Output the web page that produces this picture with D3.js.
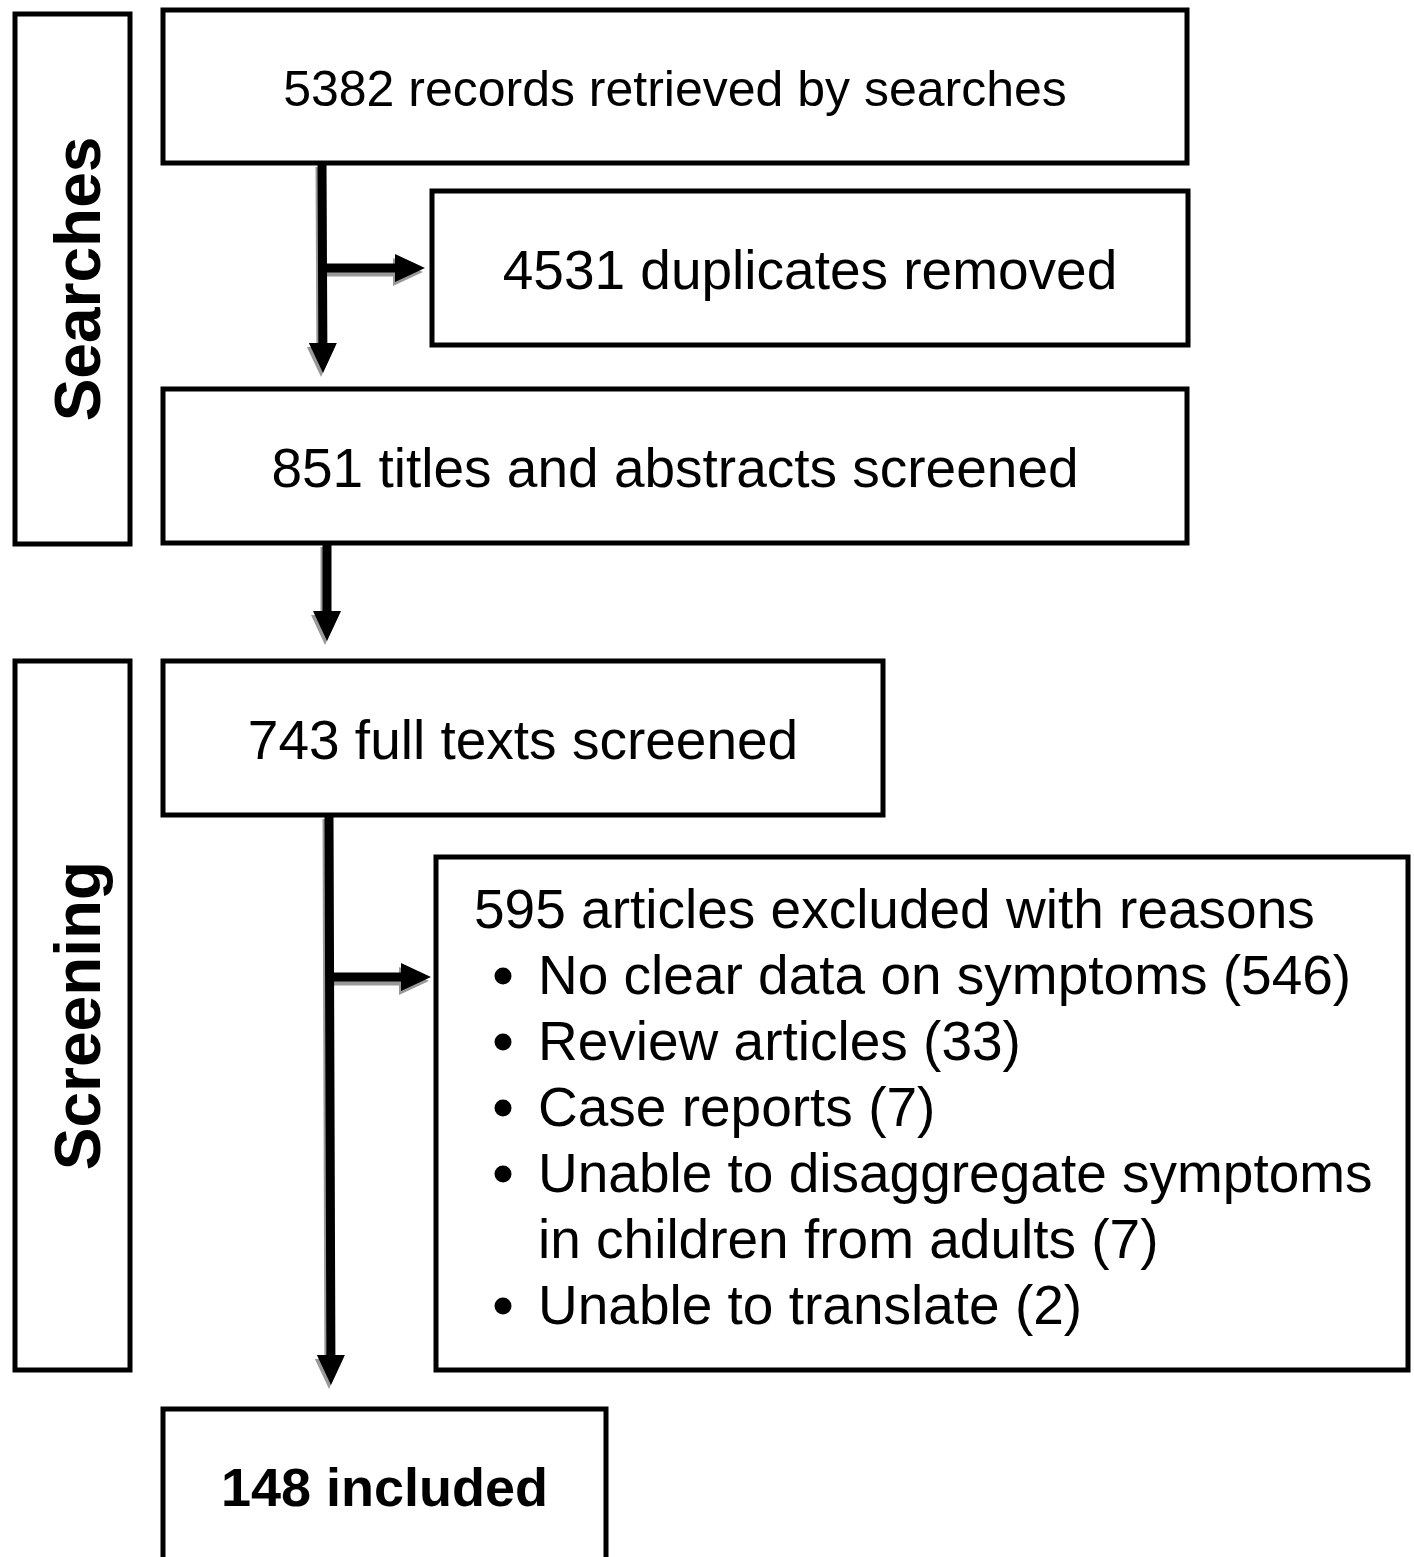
<!DOCTYPE html>
<meta charset="utf-8">
<style>
 body { margin: 0; background: white; }
 .box rect { fill: white; stroke: black; stroke-width: 5px; }
 .box text { font-family: "Liberation Sans", Arial, sans-serif; font-size: 55px; fill: black; }
 .stage text { font-family: "Liberation Sans", Arial, sans-serif; font-size: 64px; font-weight: bold; }
 .shadow { fill: #999; }
 .arrow { fill: black; }
</style>

<svg class="flow"></svg>

<script src="https://cdn.jsdelivr.net/npm/d3@7"></script>
<script>

 // text of the flow chart
 var stageNames = ["Searches", "Screening"];
 var boxLabels = ["5382 records retrieved by searches",
                  "4531 duplicates removed",
                  "851 titles and abstracts screened",
                  "743 full texts screened",
                  "148 included"];
 var exclHeader = "595 articles excluded with reasons";
 var exclReasons = [["No clear data on symptoms (546)"],
                    ["Review articles (33)"],
                    ["Case reports (7)"],
                    ["Unable to disaggregate symptoms", "in children from adults (7)"],
                    ["Unable to translate (2)"]];

 // layout: [x0, y0, x1, y1] (stroke centre)
 var stageRects = [[15, 14, 130, 544], [15, 661, 130, 1370]];
 var boxRects = [[163, 10, 1187, 163],
                 [432, 191, 1188, 345],
                 [163, 389, 1187, 543],
                 [163, 661, 883, 815],
                 [163, 1409, 606, 1580]];
 var boxFont = [50, 55, 55, 55, 54];
 var exclRect = [436, 857, 1408, 1370];
 var boldBox = 4;

 var W = 1414, H = 1557;
 var svg = d3.select(".flow").attr("width", W).attr("height", H);

 // stage labels, rotated
 var stage = svg.selectAll(".stage").data(stageNames).enter()
     .append("g").attr("class", "stage box");
 stage.append("rect")
     .attr("x", function(d, i) { return stageRects[i][0]; })
     .attr("y", function(d, i) { return stageRects[i][1]; })
     .attr("width", function(d, i) { return stageRects[i][2] - stageRects[i][0]; })
     .attr("height", function(d, i) { return stageRects[i][3] - stageRects[i][1]; });
 stage.append("text")
     .attr("transform", function(d, i) {
         var cx = 100, cy = (stageRects[i][1] + stageRects[i][3]) / 2;
         return "translate(" + cx + "," + cy + ") rotate(-90)";
     })
     .attr("text-anchor", "middle")
     .style("font-size", "64px")
     .text(function(d) { return d; });

 // arrows with grey drop shadow
 function arrowPath(x0, y0, x1, y1) {
     var sw = 4.5, hw = 14, hl = 30;
     var len = Math.hypot(x1 - x0, y1 - y0);
     var ux = (x1 - x0) / len, uy = (y1 - y0) / len;
     var px = -uy, py = ux;
     var bx = x1 - ux * hl, by = y1 - uy * hl;
     var pts = [[x0 + px * sw, y0 + py * sw], [bx + px * sw, by + py * sw],
                [bx + px * hw, by + py * hw], [x1, y1],
                [bx - px * hw, by - py * hw], [bx - px * sw, by - py * sw],
                [x0 - px * sw, y0 - py * sw]];
     return "M" + pts.map(function(p) { return p[0] + "," + p[1]; }).join("L") + "Z";
 }

 var arrows = [[322, 163, 323, 373],
               [322, 268, 425, 268],
               [327, 543, 327, 641],
               [329, 815, 331, 1385],
               [331, 977, 431, 977]];

 var ag = svg.append("g");
 ag.selectAll(".shadow").data(arrows).enter().append("path")
   .attr("class", "shadow")
   .attr("transform", "translate(-2,4)")
   .attr("d", function(d) { return arrowPath(d[0], d[1], d[2], d[3]); });
 ag.selectAll(".arrow").data(arrows).enter().append("path")
   .attr("class", "arrow")
   .attr("d", function(d) { return arrowPath(d[0], d[1], d[2], d[3]); });

 // simple boxes
 var box = svg.selectAll(".fbox").data(boxLabels).enter()
     .append("g").attr("class", "box fbox");
 box.append("rect")
     .attr("x", function(d, i) { return boxRects[i][0]; })
     .attr("y", function(d, i) { return boxRects[i][1]; })
     .attr("width", function(d, i) { return boxRects[i][2] - boxRects[i][0]; })
     .attr("height", function(d, i) { return boxRects[i][3] - boxRects[i][1]; });
 box.append("text")
     .attr("x", function(d, i) { return (boxRects[i][0] + boxRects[i][2]) / 2; })
     .attr("y", function(d, i) {
         return i == boldBox ? 1487 : (boxRects[i][1] + boxRects[i][3]) / 2 + 2;
     })
     .attr("dy", "0.35em")
     .attr("text-anchor", "middle")
     .style("font-weight", function(d, i) { return i == boldBox ? "bold" : "normal"; })
     .style("font-size", function(d, i) { return boxFont[i] + "px"; })
     .text(function(d) { return d; });

 // exclusion box with bullet list
 var ex = svg.append("g").attr("class", "box");
 ex.append("rect")
   .attr("x", exclRect[0]).attr("y", exclRect[1])
   .attr("width", exclRect[2] - exclRect[0]).attr("height", exclRect[3] - exclRect[1]);
 ex.append("text").attr("x", 474).attr("y", 928).text(exclHeader);

 var lineH = 66;
 var row = 1;
 exclReasons.forEach(function(lines) {
     ex.append("circle").attr("cx", 503).attr("cy", 928 + row * lineH - 18).attr("r", 8.5);
     lines.forEach(function(l) {
         ex.append("text").attr("x", 538).attr("y", 928 + row * lineH).text(l);
         row += 1;
     });
 });

</script>
